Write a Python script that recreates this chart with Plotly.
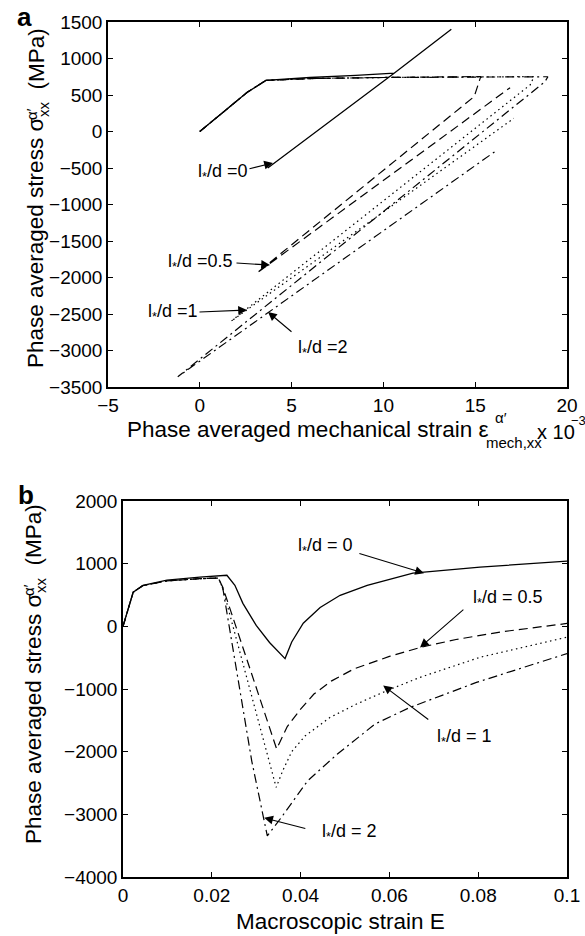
import plotly.graph_objects as go

W, H = 585, 936

# ---------------- Data: panel a (mechanical strain x1e-3, stress MPa) ----------------
a_solid_x = [0, 2.6, 3.6, 6.0, 8.5, 10.6, 3.7, 6.7, 10.6, 13.7]
a_solid_y = [0, 540, 700, 740, 770, 800, -500, 60, 800, 1400]

a_dash_x = [0, 2.6, 3.6, 6.0, 10.0, 15.3, 14.95, 3.1, 16.9]
a_dash_y = [0, 540, 700, 725, 740, 752, 480, -1940, 600]

a_dot_x = [0, 2.6, 3.6, 6.0, 10.0, 15.0, 18.2, 18.0, 1.7, 17.1]
a_dot_y = [0, 540, 700, 725, 740, 748, 752, 640, -2600, 180]

a_dashdot_x = [0, 2.6, 3.6, 6.0, 10.0, 15.0, 18.96, 18.8, -1.2, 16.2]
a_dashdot_y = [0, 540, 700, 725, 740, 748, 750, 682, -3360, -253]

# ---------------- Data: panel b (macroscopic strain E, stress MPa) ----------------
b_solid_x = [0, 0.0023, 0.0045, 0.0099, 0.0173, 0.0234, 0.0252, 0.027, 0.030, 0.033,
             0.0365, 0.038, 0.0406, 0.0444, 0.0489, 0.055, 0.0653, 0.0804, 0.1]
b_solid_y = [0, 545, 655, 736, 784, 815, 655, 367, 14, -258,
             -515, -250, 50, 300, 495, 655, 850, 945, 1040]

b_dash_x = [0, 0.0023, 0.0045, 0.0099, 0.0173, 0.0215, 0.0225, 0.0346, 0.037, 0.040,
            0.043, 0.047, 0.052, 0.060, 0.067, 0.075, 0.085, 0.1]
b_dash_y = [0, 545, 650, 725, 760, 770, 620, -1955, -1600, -1320,
            -1080, -870, -680, -480, -336, -210, -90, 46]

b_dot_x = [0, 0.0023, 0.0045, 0.0099, 0.0173, 0.0215, 0.0225, 0.0345, 0.036, 0.038,
           0.041, 0.0466, 0.0526, 0.0594, 0.0669, 0.0804, 0.1]
b_dot_y = [0, 545, 650, 725, 760, 770, 600, -2570, -2300, -2000,
           -1750, -1455, -1240, -1027, -814, -494, -173]

b_dashdot_x = [0, 0.0023, 0.0045, 0.0099, 0.0173, 0.0215, 0.0225, 0.029, 0.0325, 0.0356,
               0.0416, 0.0483, 0.0568, 0.0646, 0.0796, 0.1]
b_dashdot_y = [0, 545, 650, 725, 760, 770, 600, -2150, -3344, -3056,
               -2464, -2037, -1557, -1295, -895, -435]

# annotation labels
labels = ["l<sub>*</sub>/d =0", "l<sub>*</sub>/d =0.5", "l<sub>*</sub>/d =1", "l<sub>*</sub>/d =2"]
labels_b = ["l<sub>*</sub>/d = 0", "l<sub>*</sub>/d = 0.5", "l<sub>*</sub>/d = 1", "l<sub>*</sub>/d = 2"]

FONT = "Liberation Sans, Arial, Helvetica, sans-serif"
LW = 1.2
styles = [
    dict(color="black", width=1.3),
    dict(color="black", width=LW, dash="9px,5px"),
    dict(color="black", width=LW, dash="1.5px,3.5px"),
    dict(color="black", width=LW, dash="9px,4px,2px,4px"),
]

fig = go.Figure()
for (xs, ys), st in zip([(a_solid_x, a_solid_y), (a_dash_x, a_dash_y),
                         (a_dot_x, a_dot_y), (a_dashdot_x, a_dashdot_y)], styles):
    fig.add_trace(go.Scatter(x=xs, y=ys, mode="lines", line=st, xaxis="x", yaxis="y",
                             showlegend=False, hoverinfo="skip"))
for (xs, ys), st in zip([(b_solid_x, b_solid_y), (b_dash_x, b_dash_y),
                         (b_dot_x, b_dot_y), (b_dashdot_x, b_dashdot_y)], styles):
    fig.add_trace(go.Scatter(x=xs, y=ys, mode="lines", line=st, xaxis="x2", yaxis="y2",
                             showlegend=False, hoverinfo="skip"))

axis_common = dict(showgrid=False, zeroline=False, showline=True, linecolor="black",
                   linewidth=1.5, mirror="ticks", ticks="inside", ticklen=5, tickwidth=1,
                   tickcolor="black", automargin=False,
                   tickfont=dict(family=FONT, size=19, color="black"))

fig.update_layout(
    width=W, height=H, margin=dict(l=0, r=0, t=0, b=0, pad=0, autoexpand=False),
    paper_bgcolor="white", plot_bgcolor="white",
    xaxis=dict(domain=[108 / W, 567 / W], range=[-5, 20], dtick=5, tick0=0,
               anchor="y", **axis_common),
    yaxis=dict(domain=[1 - 387 / H, 1 - 22 / H], range=[-3500, 1500], dtick=500,
               anchor="x", **axis_common),
    xaxis2=dict(domain=[123 / W, 567 / W], range=[0, 0.1], dtick=0.02, tick0=0,
                anchor="y2", **axis_common),
    yaxis2=dict(domain=[1 - 877 / H, 1 - 501 / H], range=[-4000, 2000], dtick=1000,
                anchor="x2", **axis_common),
)

ann = []


def ptxt(text, x, y, size, xanchor="center", yanchor="middle", angle=0, bold=False):
    ann.append(dict(text=("<b>%s</b>" % text) if bold else text, x=x / W, y=1 - y / H,
                    xref="paper", yref="paper", xanchor=xanchor, yanchor=yanchor,
                    textangle=angle, showarrow=False,
                    font=dict(family=FONT, size=size, color="black")))


# panel letters
ptxt("a", 24, 17, 26, bold=True)
ptxt("b", 26, 495, 26, bold=True)

# y labels (top and bottom)
for dx, dy in [(0, 0), (-3, 476)]:
    ptxt("Phase averaged stress σ", 36 + dx, 370 + dy, 22.5, yanchor="bottom", angle=-90)
    ptxt("α′", 31 + dx, 114 + dy, 15, angle=-90)
    ptxt("xx", 43 + dx, 109 + dy, 15, angle=-90)
    ptxt("(MPa)", 36 + dx, 27 + dy, 22.5, yanchor="top", angle=-90)

# x label top
ptxt("Phase averaged mechanical strain ε", 125, 430, 22.5, xanchor="left")
ptxt("α′", 501, 418, 15)
ptxt("mech,xx", 484, 442, 15, xanchor="left")
ptxt("x 10", 535, 432, 20, xanchor="left")
ptxt("−3", 569, 421, 13, xanchor="left")

# x label bottom
ptxt("Macroscopic strain E", 340, 921, 22.5)

# curve labels with arrows (data coordinates)
a_lab_pos = [(1.209, -568), (0.011, -1788), (-1.487, -2473), (6.656, -2966)]
a_arrow_tail = [(2.625, -514), (1.917, -1801), (-0.098, -2473), (5.076, -2760)]
a_arrow_head = [(3.987, -432), (3.824, -1829), (2.571, -2445), (3.715, -2473)]

b_lab_pos = [(0.0454, 1280), (0.0865, 448), (0.0768, -1776), (0.0510, -3296)]
b_arrow_tail = [(0.0529, 1168), (0.0770, 288), (0.0691, -1504), (0.0414, -3232)]
b_arrow_head = [(0.0678, 848), (0.0669, -336), (0.0586, -944), (0.0318, -3056)]

for labs, lp, tails, heads, xr, yr in [(labels, a_lab_pos, a_arrow_tail, a_arrow_head, "x", "y"),
                                      (labels_b, b_lab_pos, b_arrow_tail, b_arrow_head, "x2", "y2")]:
    for t, p, tl, hd in zip(labs, lp, tails, heads):
        ann.append(dict(text=t, x=p[0], y=p[1], xref=xr, yref=yr, showarrow=False,
                        xanchor="center", yanchor="middle",
                        font=dict(family=FONT, size=18, color="black")))
        ann.append(dict(text="", x=hd[0], y=hd[1], ax=tl[0], ay=tl[1], xref=xr, yref=yr,
                        axref=xr, ayref=yr, showarrow=True, arrowhead=2, arrowsize=1.6,
                        arrowwidth=1.1, arrowcolor="black", standoff=0, startstandoff=0))

fig.update_layout(annotations=ann)
fig.write_html("out.html", config={"displayModeBar": False},
               post_script="document.body.style.margin='0';document.body.style.overflow='hidden';")
